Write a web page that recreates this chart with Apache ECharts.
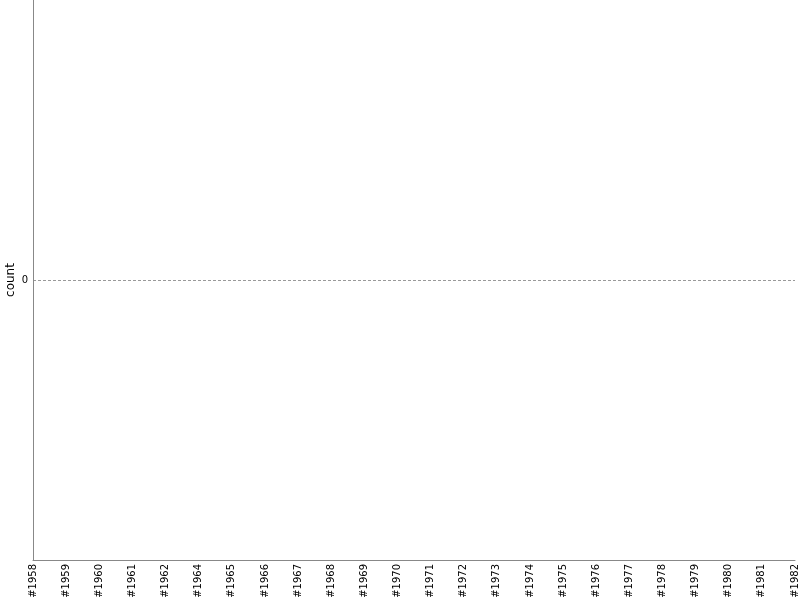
<!DOCTYPE html>
<html>
<head>
<meta charset="utf-8">
<script src="https://cdn.jsdelivr.net/npm/echarts@6/dist/echarts.min.js"></script>
<style>html,body{margin:0;padding:0;background:#fff}#c{width:800px;height:600px}</style>
</head>
<body>
<div id="c"></div>
<script>
var categories = ['#1958','#1959','#1960','#1961','#1962','#1964','#1965','#1966','#1967','#1968','#1969','#1970','#1971','#1972','#1973','#1974','#1975','#1976','#1977','#1978','#1979','#1980','#1981','#1982'];
var countValues = [];
var yTicks = [-1, 0, 1];

var chart = echarts.init(document.getElementById('c'), null, {renderer: 'canvas'});
chart.setOption({
  animation: false,
  grid: {left: 33, right: 5, top: 0, bottom: 40, containLabel: false, outerBoundsMode: 'none'},
  xAxis: {
    type: 'category',
    data: categories,
    boundaryGap: false,
    axisLine: {onZero: false, lineStyle: {color: '#888', width: 1}},
    axisTick: {show: false},
    axisLabel: {rotate: 90, interval: 0, fontSize: 10, color: '#000', fontFamily: 'DejaVu Sans', margin: 4, padding: [0, 0, 0, 0]},
    splitLine: {show: false}
  },
  yAxis: {
    type: 'value',
    min: yTicks[0],
    max: yTicks[2],
    interval: 1,
    name: 'count',
    nameLocation: 'middle',
    nameGap: 16,
    nameMoveOverlap: false,
    nameTextStyle: {fontSize: 12, color: '#000', fontFamily: 'DejaVu Sans'},
    axisLine: {show: true, onZero: false, lineStyle: {color: '#888', width: 1}},
    axisTick: {show: false},
    axisLabel: {fontSize: 10, color: '#000', fontFamily: 'DejaVu Sans', margin: 5,
      formatter: function (v) { return v === 0 ? '0' : ''; }},
    splitLine: {show: true, lineStyle: {type: [3, 2], color: ['rgba(0,0,0,0)', '#999', 'rgba(0,0,0,0)'], width: 1}}
  },
  series: [{type: 'line', name: 'count', data: countValues}]
});
</script>
</body>
</html>
